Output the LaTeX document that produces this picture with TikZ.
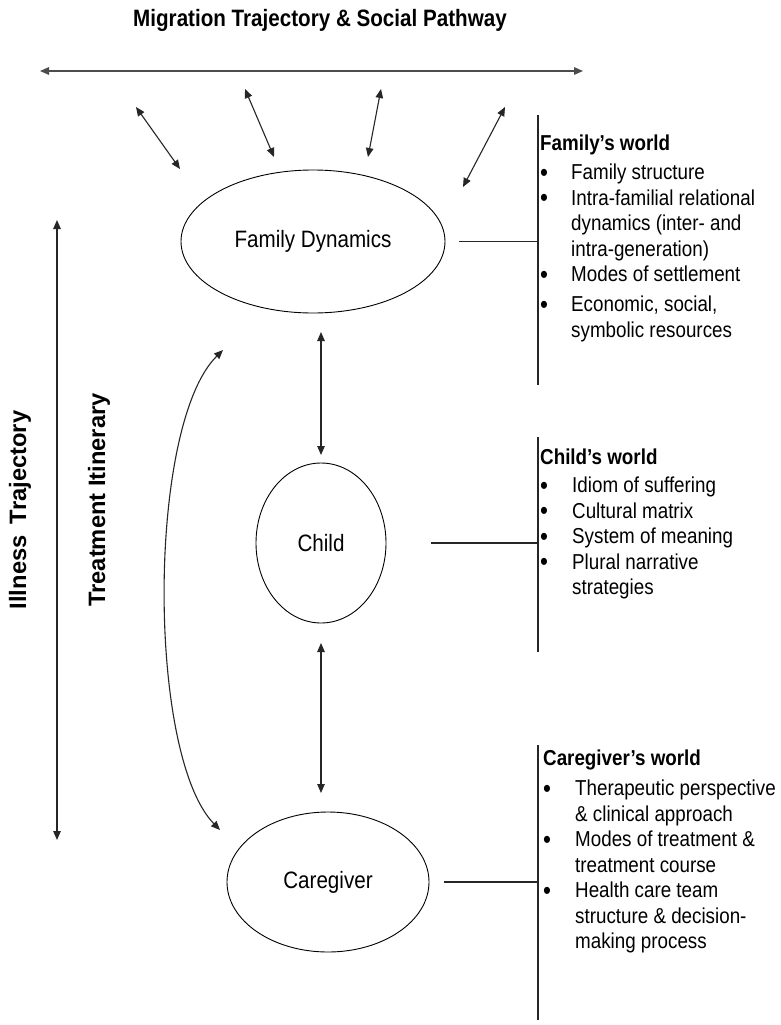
\documentclass[tikz,border=0pt]{standalone}
\usepackage{fontspec}
\setmainfont{Liberation Sans}[FakeStretch=0.87]
\newfontfamily\vfont{Liberation Sans}
\usetikzlibrary{arrows.meta,shapes.geometric}
\newcommand{\mybul}[1]{\makebox[#1][l]{\raisebox{-1.5pt}{\fontsize{26}{26}\selectfont\textbullet}}}
\begin{document}
\begin{tikzpicture}[x=1pt,y=-1pt,
  conn/.style={line width=1.1pt, draw=black!85, {Triangle[length=9pt,width=7.5pt]}-{Triangle[length=9pt,width=7.5pt]}},
  oval/.style={ellipse, draw, line width=0.9pt, inner sep=0pt, font=\fontsize{23.7}{28}\selectfont},
  bracket/.style={line width=1.3pt, draw=black!85},
  lst/.style={anchor=base west, inner sep=0pt, font=\fontsize{21.6}{25.5}\selectfont},
  bigbold/.style={font=\bfseries\fontsize{23.7}{28}\selectfont},
  vbold/.style={font=\vfont\bfseries\fontsize{23.7}{28}\selectfont, rotate=90}]
\fill[white] (0,0) rectangle (780,1025);
\useasboundingbox (0,0) rectangle (780,1025);

% title and top arrow
\node[bigbold, anchor=base] (title) at (320,27) {Migration Trajectory \& Social Pathway};
\coordinate (hl) at (40,71);
\coordinate (hr) at (583,71);
\draw[conn, line width=1.4pt, draw=black!70] (hl) -- (hr);

% main nodes
\node[oval, minimum width=264pt, minimum height=143pt] (fam) at (313,241.5) {Family Dynamics};
\node[oval, minimum width=130pt, minimum height=160pt] (child) at (321,543) {Child};
\node[oval, minimum width=202pt, minimum height=140pt] (care) at (328,882) {Caregiver};

% small arrows to migration line
\coordinate (m1a) at (136,107); \coordinate (m1b) at (180,169);
\coordinate (m2a) at (245,89);  \coordinate (m2b) at (274,157);
\coordinate (m3a) at (381,89);  \coordinate (m3b) at (368,157);
\coordinate (m4a) at (505,107); \coordinate (m4b) at (463,187);
\draw[conn] (m1a) -- (m1b);
\draw[conn] (m2a) -- (m2b);
\draw[conn] (m3a) -- (m3b);
\draw[conn] (m4a) -- (m4b);

% vertical arrows between nodes
\coordinate (fc1) at (321,332); \coordinate (fc2) at (321,455);
\coordinate (cc1) at (321,643); \coordinate (cc2) at (321,793);
\draw[conn] (fc1) -- (fc2);
\draw[conn] (cc1) -- (cc2);

% curved treatment arrow
\coordinate (ct) at (223,350);
\coordinate (cb) at (220,830);
\draw[conn] (ct) .. controls (147,425) and (147,755) .. (cb);

% illness trajectory arrow
\coordinate (it) at (57,220);
\coordinate (ib) at (57,840);
\draw[conn, line width=1.3pt] (it) -- (ib);
\node[vbold] (ill) at (20,510) {Illness\hspace{0.2em} Trajectory};
\node[vbold] (treat) at (99,500) {Treatment Itinerary};

% brackets
\coordinate (fbt) at (538,115); \coordinate (fbb) at (538,385);
\coordinate (cbt) at (538,437); \coordinate (cbb) at (538,652);
\coordinate (gbt) at (538,745); \coordinate (gbb) at (538,1020);
\draw[bracket] (fbt) -- (fbb);
\draw[bracket] (cbt) -- (cbb);
\draw[bracket] (gbt) -- (gbb);
\draw[bracket] ([xshift=14pt]fam.east) -- (fbt |- fam.east);
\draw[bracket] ([xshift=45pt]child.east) -- (cbt |- child.east);
\draw[bracket] ([xshift=15pt]care.east) -- (gbt |- care.east);

% lists
\node[lst] (famw) at (540,150.5) {\begin{tabular}[t]{@{}l@{}l@{}}
\multicolumn{2}{@{}l@{}}{\bfseries Family’s world}\\[3.5pt]
\mybul{31pt} & Family structure\\
\mybul{31pt} & Intra-familial relational\\
 & dynamics (inter- and\\
 & intra-generation)\\
\mybul{31pt} & Modes of settlement\\[4.5pt]
\mybul{31pt} & Economic, social,\\
 & symbolic resources
\end{tabular}};

\node[lst] (childw) at (540,464.5) {\begin{tabular}[t]{@{}l@{}l@{}}
\multicolumn{2}{@{}l@{}}{\bfseries Child’s world}\\[2.5pt]
\mybul{32pt} & Idiom of suffering\\
\mybul{32pt} & Cultural matrix\\
\mybul{32pt} & System of meaning\\
\mybul{32pt} & Plural narrative\\
 & strategies
\end{tabular}};

\node[lst] (carew) at (543,765.5) {\begin{tabular}[t]{@{}l@{}l@{}}
\multicolumn{2}{@{}l@{}}{\bfseries Caregiver’s world}\\[4.5pt]
\mybul{32pt} & Therapeutic perspective\\
 & \& clinical approach\\
\mybul{32pt} & Modes of treatment \&\\
 & treatment course\\
\mybul{32pt} & Health care team\\
 & structure \& decision-\\
 & making process
\end{tabular}};
\end{tikzpicture}
\end{document}
